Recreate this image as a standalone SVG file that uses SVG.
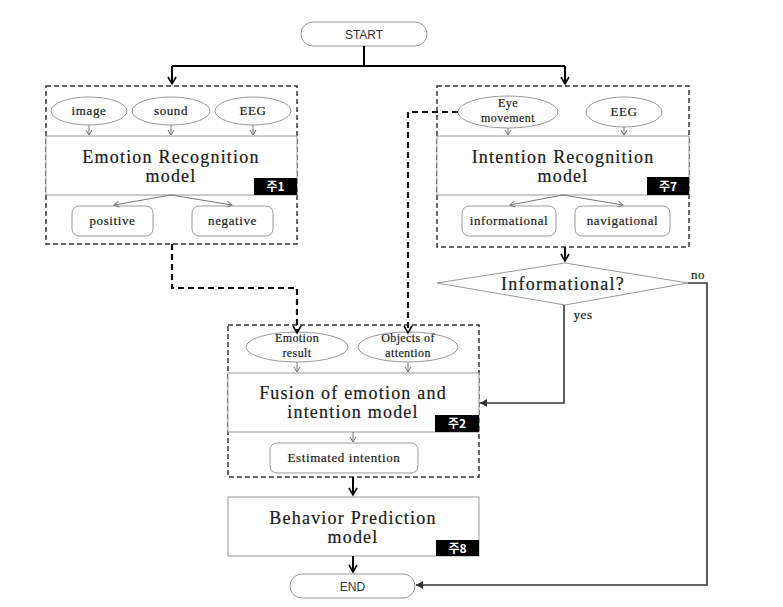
<svg xmlns="http://www.w3.org/2000/svg" width="783" height="607" viewBox="0 0 783 607">
<defs>
<marker id="ab" markerWidth="10" markerHeight="10" refX="8" refY="5" orient="auto" markerUnits="userSpaceOnUse"><path d="M1,1 L8,5 L1,9" fill="none" stroke="#000" stroke-width="1.6"/></marker>
<marker id="ag" markerWidth="8" markerHeight="8" refX="6" refY="4" orient="auto" markerUnits="userSpaceOnUse"><path d="M1,1 L6,4 L1,7" fill="none" stroke="#777" stroke-width="1"/></marker>
<marker id="af" markerWidth="10" markerHeight="10" refX="8" refY="5" orient="auto" markerUnits="userSpaceOnUse"><path d="M1,1 L8,5 L1,9 Z" fill="#333" stroke="none"/></marker>
</defs>
<style>
.dbox{fill:none;stroke:#333;stroke-width:1.5;stroke-dasharray:5,3}
.mbox{fill:#fff;stroke:#999;stroke-width:1}
.ell{fill:#fff;stroke:#999;stroke-width:1}
.rbox{fill:#fff;stroke:#999;stroke-width:1}
.t{font-family:"Liberation Serif",serif;fill:#1a1a1a;text-anchor:middle;stroke:#1a1a1a;stroke-width:0.2}
.big{font-size:18px;letter-spacing:1.2px}
.sm{font-size:13px;letter-spacing:0.6px}
.xs{font-size:12px;letter-spacing:0.4px}
.sans{font-family:"Liberation Sans","Noto Sans",sans-serif;font-size:12px;fill:#333;text-anchor:middle}
.lbl{fill:#000}
.lt{font-family:"Noto Sans CJK KR","Liberation Sans",sans-serif;font-size:12px;font-weight:bold;fill:#fff;text-anchor:middle}
.c{fill:none;stroke:#000;stroke-width:2}
.cd{fill:none;stroke:#111;stroke-width:2.2;stroke-dasharray:6,4}
.g{fill:none;stroke:#777;stroke-width:1}
.cr{fill:none;stroke:#333;stroke-width:1.6}
</style>
<rect width="783" height="607" fill="#fff"/>

<g id="start">
<rect x="301" y="22" width="126" height="24" rx="12" fill="#fff" stroke="#999"/>
<text class="sans" x="364" y="38.5">START</text>
</g>

<g id="emotion-group">
<rect class="dbox" x="46" y="86" width="251" height="158"/>
<ellipse class="ell" cx="89" cy="111" rx="38" ry="14"/>
<text class="t sm" x="89" y="115">image</text>
<ellipse class="ell" cx="171" cy="111" rx="39" ry="14"/>
<text class="t sm" x="171" y="115">sound</text>
<ellipse class="ell" cx="253" cy="111" rx="38" ry="14"/>
<text class="t sm" x="253" y="115">EEG</text>
<rect class="mbox" x="46" y="136" width="251" height="59"/>
<text class="t big" x="171" y="163">Emotion Recognition</text>
<text class="t big" x="171" y="182">model</text>
<rect class="lbl" x="254" y="178" width="43" height="17"/>
<text class="lt" x="275.5" y="191">주1</text>
<rect class="rbox" x="72" y="206" width="81" height="30" rx="7"/>
<text class="t sm" x="112.5" y="225">positive</text>
<rect class="rbox" x="192" y="206" width="81" height="30" rx="7"/>
<text class="t sm" x="232.5" y="225">negative</text>
<path class="g" d="M89,125 V135" marker-end="url(#ag)"/>
<path class="g" d="M171,125 V135" marker-end="url(#ag)"/>
<path class="g" d="M253,125 V135" marker-end="url(#ag)"/>
<path class="g" d="M171,195 L114,205" marker-end="url(#ag)"/>
<path class="g" d="M171,195 L232,205" marker-end="url(#ag)"/>
</g>

<g id="intention-group">
<rect class="dbox" x="437" y="86" width="252" height="161"/>
<ellipse class="ell" cx="508" cy="112" rx="50" ry="16"/>
<text class="t xs" x="508" y="107">Eye</text>
<text class="t xs" x="508" y="122">movement</text>
<ellipse class="ell" cx="624" cy="112" rx="38" ry="15"/>
<text class="t sm" x="624" y="116">EEG</text>
<rect class="mbox" x="437" y="136" width="252" height="59"/>
<text class="t big" x="563" y="163">Intention Recognition</text>
<text class="t big" x="563" y="182">model</text>
<rect class="lbl" x="647" y="177" width="42" height="18"/>
<text class="lt" x="668" y="190.5">주7</text>
<rect class="rbox" x="462" y="206" width="94" height="30" rx="7"/>
<text class="t sm" x="509" y="225">informational</text>
<rect class="rbox" x="575" y="206" width="95" height="30" rx="7"/>
<text class="t sm" x="622.5" y="225">navigational</text>
<path class="g" d="M508,128 V135" marker-end="url(#ag)"/>
<path class="g" d="M624,127 V135" marker-end="url(#ag)"/>
<path class="g" d="M563,195 L510,205" marker-end="url(#ag)"/>
<path class="g" d="M563,195 L623,205" marker-end="url(#ag)"/>
</g>

<g id="decision">
<polygon points="437,283 565,263 688,283 565,305" fill="#fff" stroke="#999"/>
<text class="t big" x="563" y="290">Informational?</text>
<text class="t sm" x="698" y="279">no</text>
<text class="t sm" x="583" y="319">yes</text>
</g>

<g id="fusion-group">
<rect class="dbox" x="228" y="325" width="251" height="152"/>
<ellipse class="ell" cx="297" cy="347" rx="51" ry="15"/>
<text class="t xs" x="297" y="342">Emotion</text>
<text class="t xs" x="297" y="357">result</text>
<ellipse class="ell" cx="408" cy="347" rx="50" ry="15"/>
<text class="t xs" x="408" y="342">Objects of</text>
<text class="t xs" x="408" y="357">attention</text>
<rect class="mbox" x="228" y="373" width="251" height="59"/>
<text class="t big" x="353" y="399">Fusion of emotion and</text>
<text class="t big" x="353" y="418">intention model</text>
<rect class="lbl" x="435" y="415" width="44" height="17"/>
<text class="lt" x="457" y="428">주2</text>
<rect class="rbox" x="270" y="443" width="148" height="30" rx="7"/>
<text class="t sm" x="344" y="462">Estimated intention</text>
<path class="g" d="M297,362 V372" marker-end="url(#ag)"/>
<path class="g" d="M408,362 V372" marker-end="url(#ag)"/>
<path class="g" d="M353,432 V442" marker-end="url(#ag)"/>
</g>

<g id="behavior">
<rect class="mbox" x="228" y="497" width="251" height="59"/>
<text class="t big" x="353" y="524">Behavior Prediction</text>
<text class="t big" x="353" y="543">model</text>
<rect class="lbl" x="436" y="540" width="43" height="16"/>
<text class="lt" x="457.5" y="552.5">주8</text>
</g>

<g id="end">
<rect x="290" y="574" width="125" height="24" rx="12" fill="#fff" stroke="#999"/>
<text class="sans" x="352.5" y="590.5">END</text>
</g>

<g id="connectors">
<path class="c" d="M364,46 V66"/>
<path class="c" d="M172,66 H565"/>
<path class="c" d="M172,66 V84" marker-end="url(#ab)"/>
<path class="c" d="M565,66 V84" marker-end="url(#ab)"/>
<path class="c" d="M565,247 V261" marker-end="url(#ab)"/>
<path class="cd" d="M172,244 V288 H297 V333" marker-end="url(#ab)"/>
<path class="cd" d="M458,112 H408 V333" marker-end="url(#ab)"/>
<path class="cr" d="M564,305 V403 H480" marker-end="url(#af)"/>
<path class="cr" d="M688,283 H707 V585 H416" marker-end="url(#af)"/>
<path class="c" d="M353,477 V495" marker-end="url(#ab)"/>
<path class="c" d="M353,556 V572" marker-end="url(#ab)"/>
</g>
</svg>
